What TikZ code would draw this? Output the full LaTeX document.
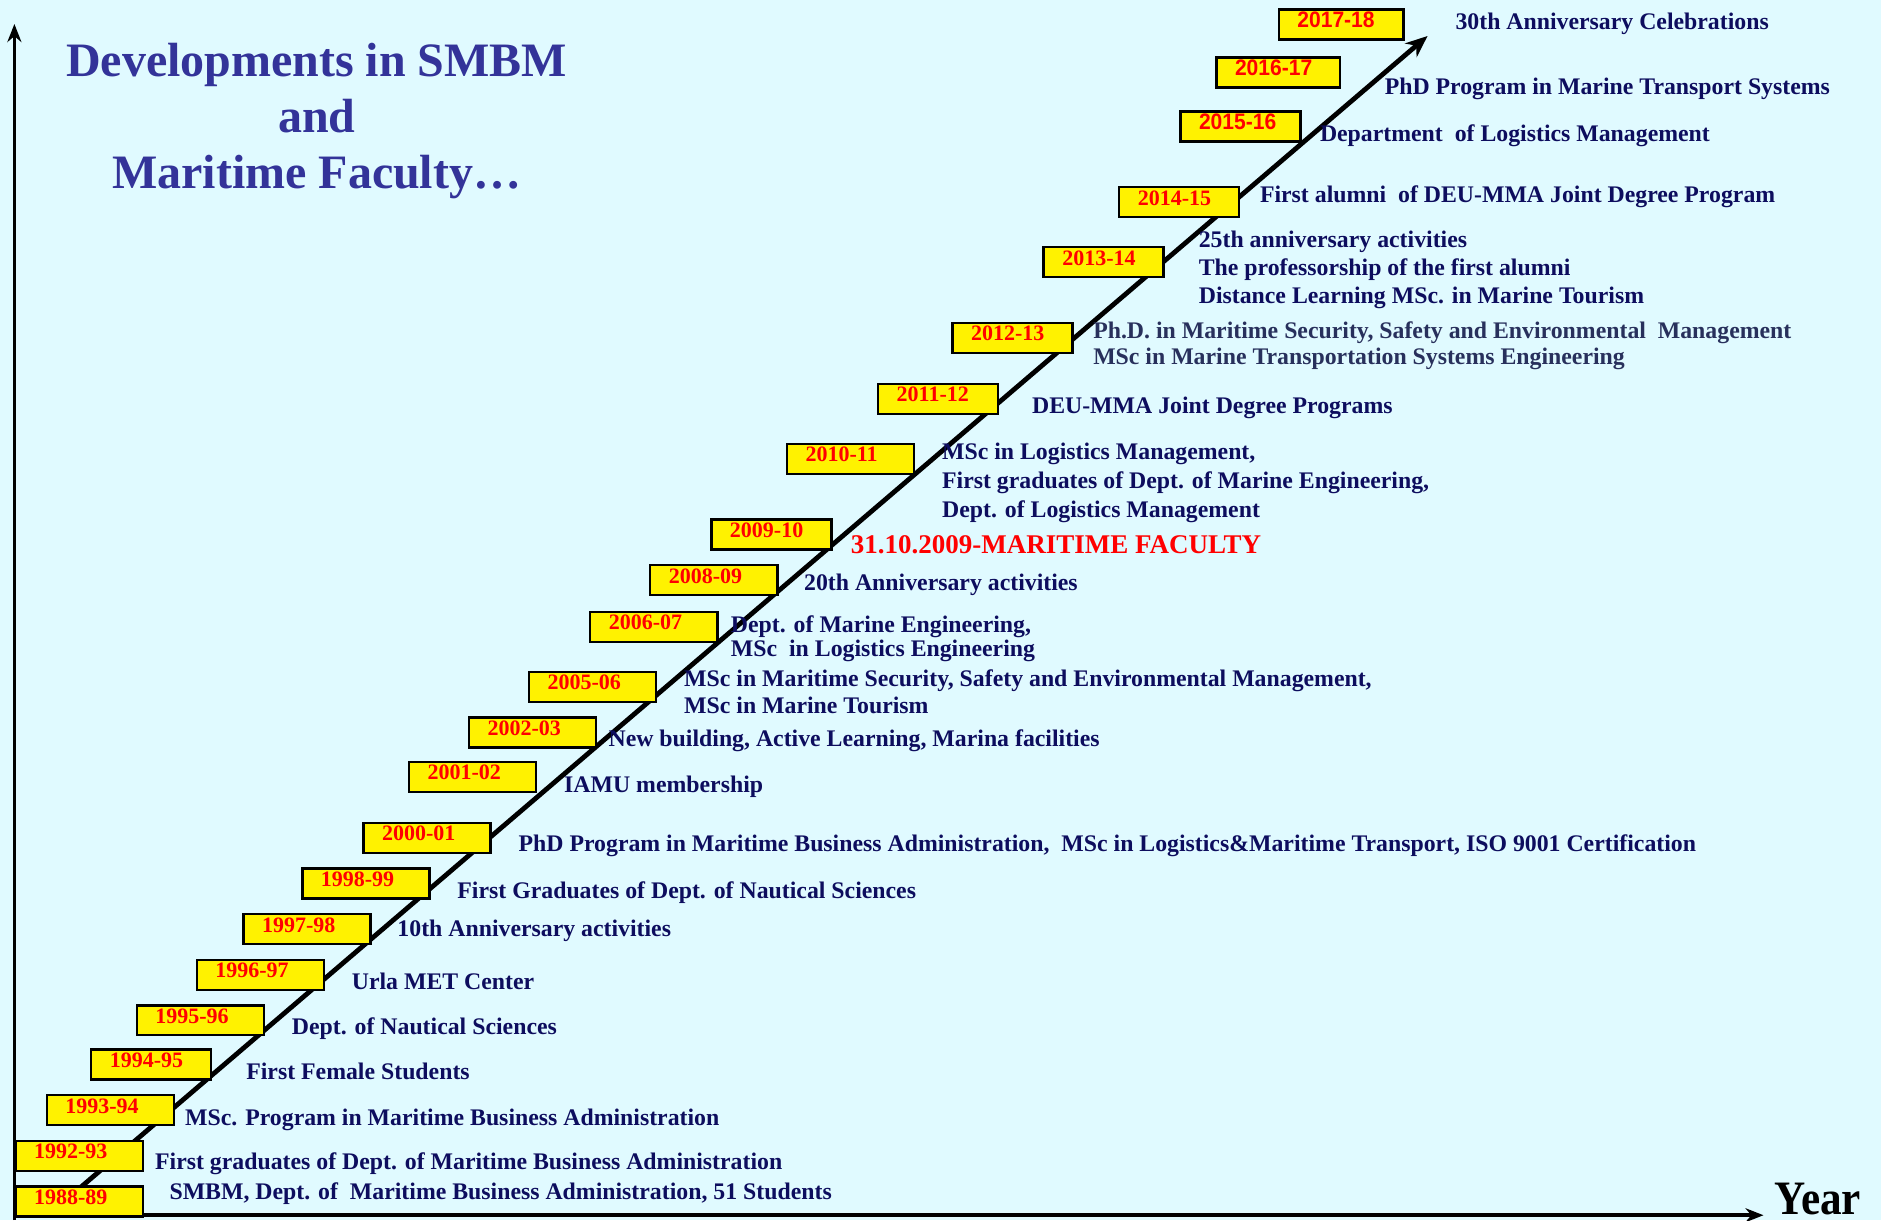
\documentclass[tikz,border=0pt]{standalone}
\usepackage{fontspec}
\setmainfont{Liberation Serif}
\newfontfamily\yearsans{Liberation Sans}[FakeStretch=0.94]
\newfontfamily\axisfont{Liberation Serif}[FakeStretch=0.9]
\usetikzlibrary{arrows.meta}

\definecolor{bgcyan}{RGB}{224,250,255}
\definecolor{navytext}{RGB}{13,13,94}
\definecolor{titleblue}{RGB}{51,51,153}
\definecolor{slatetext}{RGB}{40,48,92}

\begin{document}
\begin{tikzpicture}[x=0.6pt, y=-0.6pt,
    yearbox/.style={draw=black, line width=1.2pt, fill=yellow, anchor=north west, text=red,
      font=\bfseries\fontsize{11}{12}\selectfont, text width=45pt, align=left,
      inner xsep=9.3pt, inner ysep=1pt, text height=8pt, text depth=5pt},
    narrowbox/.style={yearbox, text width=41.4pt},
    sansbox/.style={yearbox, font=\yearsans\bfseries\fontsize{11.2}{12}\selectfont},
    event/.style={anchor=base west, text=navytext, inner sep=0pt, align=left,
      font=\bfseries\fontsize{11.9}{14.4}\selectfont},
  ]

    % Background and page size
    \fill[bgcyan] (0,0) rectangle (1568,1017);
    \useasboundingbox (0,0) rectangle (1568,1017);

    % Define the coordinates of the axes and of the time arrow
    \coordinate (O) at (12,1013);
    \coordinate (Obottom) at (12,1017);
    \coordinate (Ytop) at (12,20);
    \coordinate (Xend) at (1470,1013);
    \coordinate (Tstart) at (40,1013);
    \coordinate (Tend) at (1190,30);

    % Draw the axes
    \draw[line width=1.8pt, -{Stealth[length=9pt, width=7pt]}] (Obottom) -- (Ytop);
    \draw[line width=1.8pt, -{Stealth[length=9pt, width=7pt]}] (O) -- (Xend);

    % Draw the time arrow
    \draw[line width=2.4pt, -{Stealth[length=11pt, width=9pt]}] (Tstart) -- (Tend);

    % Year boxes
    \node[yearbox] (b8889) at (12,988) {1988-89};
    \node[yearbox] (b9293) at (12,950) {1992-93};
    \node[yearbox] (b9394) at (38,912) {1993-94};
    \node[narrowbox] (b9495) at (75,874) {1994-95};
    \node[yearbox] (b9596) at (113,837) {1995-96};
    \node[yearbox] (b9697) at (163,799) {1996-97};
    \node[yearbox] (b9798) at (202,761) {1997-98};
    \node[yearbox] (b9899) at (251,723) {1998-99};
    \node[yearbox] (b0001) at (302,685) {2000-01};
    \node[yearbox] (b0102) at (340,634) {2001-02};
    \node[yearbox] (b0203) at (390,597) {2002-03};
    \node[yearbox] (b0506) at (440,559) {2005-06};
    \node[yearbox] (b0607) at (491,509) {2006-07};
    \node[yearbox] (b0809) at (541,470) {2008-09};
    \node[narrowbox] (b0910) at (592,432) {2009-10};
    \node[yearbox] (b1011) at (655,369) {2010-11};
    \node[narrowbox] (b1112) at (731,319) {2011-12};
    \node[narrowbox] (b1213) at (793,268) {2012-13};
    \node[narrowbox] (b1314) at (869,205) {2013-14};
    \node[narrowbox] (b1415) at (932,155) {2014-15};
    \node[sansbox, text width=41.4pt] (b1516) at (983,92) {2015-16};
    \node[sansbox, text width=43.2pt] (b1617) at (1013,47) {2016-17};
    \node[sansbox, text width=43.8pt] (b1718) at (1065,7) {2017-18};

    % Labels for the events (multi-line ones sit on their last line)
    \node[event] (e8889) at (141,1000) {SMBM, Dept. of~ Maritime Business Administration, 51 Students};
    \node[event] (e9293) at (129,975) {First graduates of Dept. of Maritime Business Administration};
    \node[event] (e9394) at (154,938) {MSc. Program in Maritime Business Administration};
    \node[event] (e9495) at (205,900) {First Female Students};
    \node[event] (e9596) at (243,862) {Dept. of Nautical Sciences};
    \node[event] (e9697) at (293,825) {Urla MET Center};
    \node[event] (e9798) at (331,781) {10th Anniversary activities};
    \node[event] (e9899) at (381,749) {First Graduates of Dept. of Nautical Sciences};
    \node[event] (e0001) at (432,710) {PhD Program in Maritime Business Administration,~ MSc in Logistics\&Maritime Transport, ISO 9001 Certification};
    \node[event] (e0102) at (470,661) {IAMU membership};
    \node[event] (e0203) at (507,622) {New building, Active Learning, Marina facilities};
    \node[event, font=\bfseries\fontsize{11.9}{13.8}\selectfont] (e0506) at (570,595) {MSc in Maritime Security, Safety and Environmental Management,\\MSc in Marine Tourism};
    \node[event, font=\bfseries\fontsize{11.9}{12}\selectfont] (e0607) at (609,547) {Dept. of Marine Engineering,\\MSc~ in Logistics Engineering};
    \node[event] (e0809) at (670,492) {20th Anniversary activities};
    \node[event, text=red, font=\bfseries\fontsize{13.5}{16}\selectfont] (e0910) at (709,461) {31.10.2009-MARITIME FACULTY};
    \node[event] (e1011) at (785,431) {MSc in Logistics Management,\\First graduates of Dept. of Marine Engineering,\\Dept. of Logistics Management};
    \node[event] (e1112) at (860,345) {DEU-MMA Joint Degree Programs};
    \node[event, text=slatetext, font=\bfseries\fontsize{11.9}{13.2}\selectfont] (e1213) at (911,304) {Ph.D. in Maritime Security, Safety and Environmental~ Management\\MSc in Marine Transportation Systems Engineering};
    \node[event, font=\bfseries\fontsize{11.9}{14.1}\selectfont] (e1314) at (999,253) {25th anniversary activities\\The professorship of the first alumni\\Distance Learning MSc. in Marine Tourism};
    \node[event] (e1415) at (1050,169) {First alumni~ of DEU-MMA Joint Degree Program};
    \node[event] (e1516) at (1100,118) {Department~ of Logistics Management};
    \node[event] (e1617) at (1154,79) {PhD Program in Marine Transport Systems};
    \node[event] (e1718) at (1213,25) {30th Anniversary Celebrations};

    % Add title and axis label
    \node[anchor=base, align=center, text=titleblue, inner sep=0pt,
      font=\bfseries\fontsize{24}{27.9}\selectfont] (heading) at (264,157) {Developments in SMBM\\and\\Maritime Faculty…};
    \node[anchor=base west, inner sep=0pt, font=\axisfont\bfseries\fontsize{24}{24}\selectfont] (yearlbl) at (1479,1012) {Year};

\end{tikzpicture}
\end{document}
